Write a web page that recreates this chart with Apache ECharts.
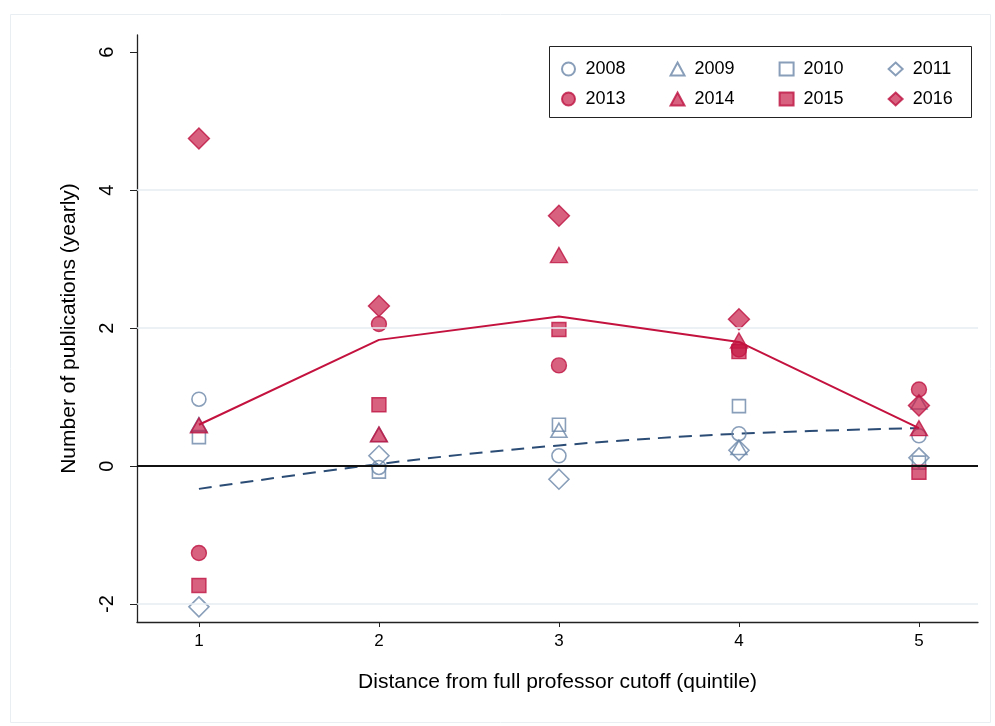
<!DOCTYPE html>
<html>
<head>
<meta charset="utf-8">
<script src="https://cdn.jsdelivr.net/npm/echarts@6/dist/echarts.min.js"></script>
<style>
html,body{margin:0;padding:0;background:#fff;}
#chart{width:995px;height:726px;}
</style>
</head>
<body>
<div id="chart"></div>
<script>
// Quintile categories (x)
var quintiles = [1, 2, 3, 4, 5];
var xTicks = [1, 2, 3, 4, 5];
var yTicks = [-2, 0, 2, 4, 6];
var gridValues = [-2, 2, 4];

// Series values
var y2008 = [0.97, -0.02, 0.15, 0.47, 0.44];
var y2009 = [0.60, 0.46, 0.52, 0.27, 0.93];
var y2010 = [0.42, -0.08, 0.60, 0.87, 0.05];
var y2011 = [-2.04, 0.15, -0.19, 0.23, 0.12];
var y2013 = [-1.26, 2.06, 1.46, 1.69, 1.11];
var y2014 = [0.59, 0.46, 3.06, 1.82, 0.55];
var y2015 = [-1.73, 0.89, 1.98, 1.66, -0.09];
var y2016 = [4.75, 2.32, 3.63, 2.13, 0.88];
var redLine = [0.60, 1.83, 2.17, 1.80, 0.55];
var blueLine = [-0.33, 0.03, 0.30, 0.47, 0.55];

var FONT = 'Liberation Sans, Arimo, Helvetica, Arial, sans-serif';
var BLUE = '#6a86a8';
var RED_BORDER = '#bd1341';
var RED_FILL = 'rgba(198,24,68,0.85)';

function pairs(vals) {
  return quintiles.map(function (q, i) { return [q, vals[i]]; });
}

function hollow(name, vals, symbol, size) {
  return {
    name: name, type: 'scatter', data: pairs(vals), symbol: symbol, symbolSize: size,
    itemStyle: { color: 'rgba(0,0,0,0)', borderColor: BLUE, borderWidth: 1.6 },
    emphasis: { disabled: true }, z: 3
  };
}
function filled(name, vals, symbol, size) {
  return {
    name: name, type: 'scatter', data: pairs(vals), symbol: symbol, symbolSize: size,
    itemStyle: { color: RED_FILL, borderColor: RED_BORDER, borderWidth: 1.4 },
    emphasis: { disabled: true }, z: 4
  };
}

var chart = echarts.init(document.getElementById('chart'), null, { renderer: 'canvas' });

var legendCommon = {
  orient: 'horizontal', itemGap: 44, itemWidth: 14, itemHeight: 13,
  textStyle: { fontFamily: FONT, fontSize: 18, color: '#000', padding: [0, 0, 0, 5] },
  selectedMode: false, padding: 0
};

var option = {
  backgroundColor: '#fff',
  animation: false,
  graphic: [
    { type: 'rect', left: 8, top: 12, shape: { width: 980, height: 708 },
      style: { fill: 'none', stroke: '#e9eef2', lineWidth: 1 }, z: -10 },
    { type: 'rect', left: 549, top: 46, shape: { width: 422, height: 71 },
      style: { fill: '#fff', stroke: '#222', lineWidth: 1 }, z: 10 }
  ],
  legend: [
    Object.assign({ left: 561, top: 60, data: ['2008', '2009', '2010', '2011'], z: 20 }, legendCommon),
    Object.assign({ left: 561, top: 90, data: ['2013', '2014', '2015', '2016'], z: 20 }, legendCommon)
  ],
  grid: { left: 137, right: 17, top: 35, bottom: 104, containLabel: false },
  xAxis: {
    type: 'value', min: 0.656, max: 5.328,
    name: 'Distance from full professor cutoff (quintile)',
    nameLocation: 'middle', nameGap: 50,
    nameTextStyle: { fontFamily: FONT, fontSize: 21, color: '#000' },
    axisLine: { show: true, onZero: false, lineStyle: { color: '#222', width: 1.3 } },
    axisTick: { show: true, length: 5, customValues: xTicks, lineStyle: { color: '#222' } },
    axisLabel: { customValues: xTicks, fontFamily: FONT, fontSize: 17, color: '#000', margin: 11 },
    splitLine: { show: false }
  },
  yAxis: {
    type: 'value', min: -2.26, max: 6.25,
    name: 'Number of publications (yearly)',
    nameLocation: 'middle', nameGap: 57, nameRotate: 90,
    nameTextStyle: { fontFamily: FONT, fontSize: 21, color: '#000' },
    axisLine: { show: true, onZero: false, lineStyle: { color: '#222', width: 1.3 } },
    axisTick: { show: true, length: 7, customValues: yTicks, lineStyle: { color: '#222' } },
    axisLabel: { customValues: yTicks, rotate: 90, fontFamily: FONT, fontSize: 20, color: '#000', margin: 20 },
    splitLine: { show: false }
  },
  series: [
    {
      name: 'grid', type: 'line', data: [], silent: true, z: 1,
      markLine: {
        silent: true, symbol: 'none', label: { show: false },
        lineStyle: { color: '#e6edf2', width: 1.5, type: 'solid' },
        data: gridValues.map(function (v) { return { yAxis: v }; })
      }
    },
    {
      name: 'zero', type: 'line', data: [], silent: true, z: 2,
      markLine: {
        silent: true, symbol: 'none', label: { show: false },
        lineStyle: { color: '#111', width: 1.8, type: 'solid' },
        data: [{ yAxis: 0 }]
      }
    },
    {
      name: 'fitBlue', type: 'line', data: pairs(blueLine), showSymbol: false, symbol: 'none',
      smooth: 0.35, lineStyle: { color: '#2b4c75', width: 2, type: [13, 8] }, z: 2
    },
    {
      name: 'fitRed', type: 'line', data: pairs(redLine), showSymbol: false, symbol: 'none',
      lineStyle: { color: '#c4123f', width: 2 }, z: 5
    },
    hollow('2008', y2008, 'circle', 14),
    hollow('2009', y2009, 'triangle', [16, 14]),
    hollow('2010', y2010, 'rect', 13),
    hollow('2011', y2011, 'diamond', [20, 20]),
    filled('2013', y2013, 'circle', 15),
    filled('2014', y2014, 'triangle', [17, 15]),
    filled('2015', y2015, 'rect', 14),
    filled('2016', y2016, 'diamond', [21, 21])
  ]
};
chart.setOption(option);
</script>
</body>
</html>
